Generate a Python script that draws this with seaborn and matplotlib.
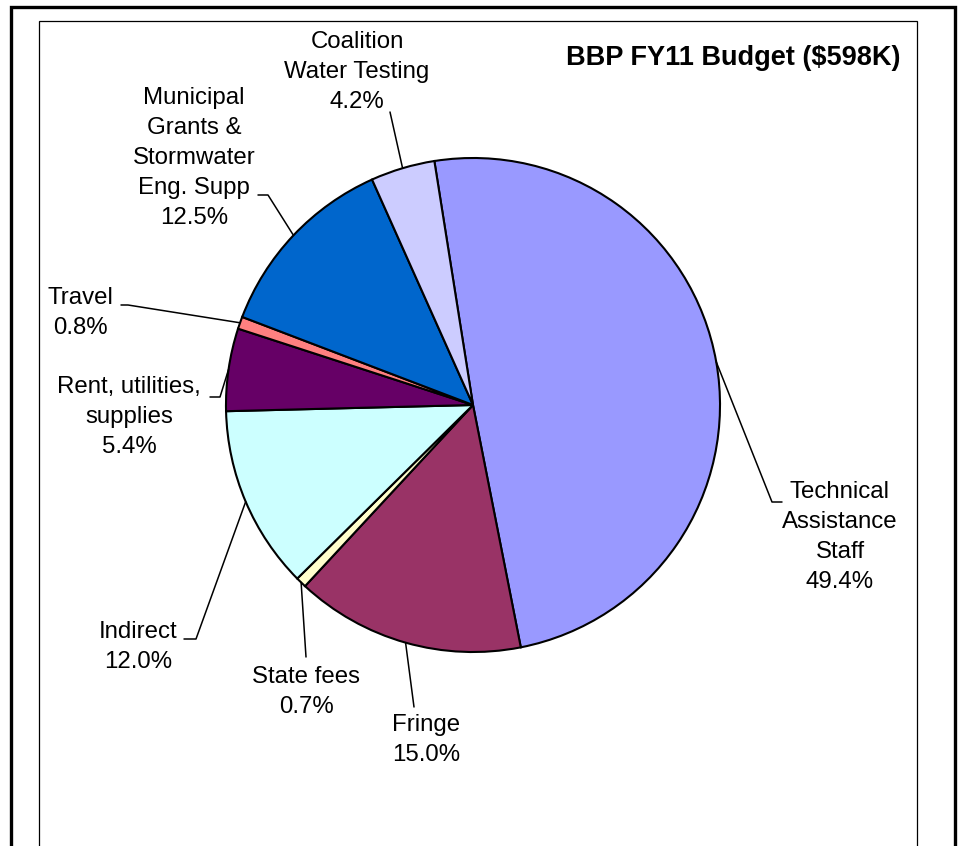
import matplotlib
matplotlib.use("Agg")
import matplotlib.pyplot as plt
import seaborn as sns
import numpy as np

# budget shares (percent), in Excel's clockwise order from the top
categories = ["Technical\nAssistance\nStaff", "Fringe", "State fees", "Indirect",
              "Rent, utilities,\nsupplies", "Travel",
              "Municipal\nGrants &\nStormwater\nEng. Supp", "Coalition\nWater Testing"]
shares = [49.4, 15.0, 0.7, 12.0, 5.4, 0.8, 12.5, 4.2]
colors = ["#9999FF", "#993366", "#FFFFCC", "#CCFFFF",
          "#660066", "#FF8080", "#0066CC", "#CCCCFF"]
title = "BBP FY11 Budget ($598K)"

W, H = 959, 846

# label layout in image pixels: text centre, leader elbow, leader tail end
label_pos = [(840, 537), (426, 740), (306, 692), (138, 647),
             (129, 417), (80, 313), (194, 158), (357, 72)]
leader_pts = [[(772, 502), (782, 502)],
              [(414, 707)],
              [(306, 657)],
              [(196, 639), (184, 639)],
              [(220, 397), (210, 397)],
              [(128, 305), (121, 305)],
              [(268, 195), (258, 195)],
              [(390, 112)]]
explode = [0.016, 0.016, 0.016, 0.016, 0.016, 0.016, 0.016, 0.026]

sns.set_style("white")
plt.rcParams['font.family'] = ['Liberation Sans', 'DejaVu Sans']


def py(y):
    return H - y


fig = plt.figure(figsize=(W / 100, H / 100), dpi=100)
ax = fig.add_axes([0, 0, 1, 1])

# frames (bottom runs off the picture)
ax.plot([11, 11, 955, 955], [py(860), py(7), py(7), py(860)], color="black", lw=2.4,
        solid_joinstyle="miter")
ax.plot([39, 39, 917, 917], [py(860), py(21), py(21), py(860)], color="black", lw=0.9,
        solid_joinstyle="miter")

wedges, _ = ax.pie(shares, colors=colors, explode=explode, startangle=99,
                   counterclock=False, center=(473, py(405)), radius=247,
                   wedgeprops=dict(edgecolor="black", linewidth=1.5),
                   frame=True)
ax.set_xlim(0, W)
ax.set_ylim(0, H)
ax.axis("off")

for w, cat, val, (tx, ty), pts in zip(wedges, categories, shares, label_pos, leader_pts):
    mid = np.deg2rad((w.theta1 + w.theta2) / 2)
    ax_x = w.center[0] + w.r * np.cos(mid)
    ax_y = w.center[1] + w.r * np.sin(mid)
    xs = [ax_x] + [p[0] for p in pts]
    ys = [ax_y] + [py(p[1]) for p in pts]
    ax.plot(xs, ys, color="black", lw=1.1)
    ax.text(tx, py(ty), f"{cat}\n{val:.1f}%", ha="center", va="center",
            fontsize=17.3, linespacing=1.47, color="black")

ax.text(901, py(58), title, ha="right", va="center", fontsize=19.5,
        fontweight="bold", color="black")

fig.savefig("out.png", dpi=100)
plt.close(fig)
